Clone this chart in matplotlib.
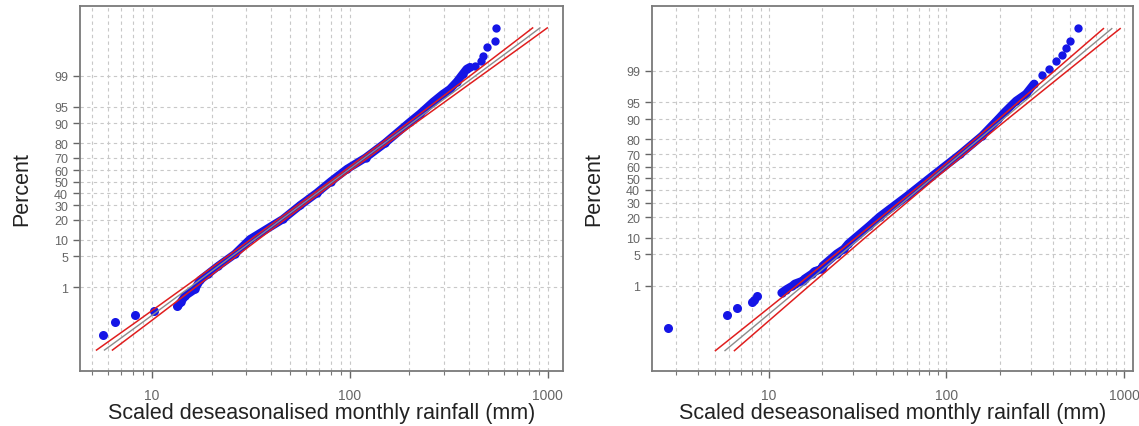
import matplotlib.pyplot as plt
import numpy as np
from statistics import NormalDist

plt.rcParams['font.family'] = ['Liberation Sans', 'DejaVu Sans']

# ---- left panel: data (x in mm, y in percent) ----
left_tail_x = [5.66, 6.5, 8.2, 10.3, 13.4]
left_tail_pct = [0.036, 0.10, 0.164, 0.22, 0.30]
left_band_x = [13.6, 14.0, 14.7, 16.5, 17.5, 19.2, 21.5, 26.2, 31.3, 45.9, 56.0, 68.0,
               80.0, 96.6, 120.0, 150.0, 201.0, 226.0, 263.0, 295.0, 320.0, 347.0,
               372.0, 389.0, 404.0]
left_band_pct = [0.33, 0.40, 0.59, 0.89, 1.5, 2.1, 3.1, 5.5, 10.2, 20.4, 30.0, 40.0,
                 50.0, 60.8, 70.0, 80.0, 90.5, 93.2, 96.0, 97.3, 97.9, 98.6,
                 99.11, 99.34, 99.41]
left_top_x = [428.0, 459.0, 470.0, 492.0, 540.0, 545.0]
left_top_pct = [99.45, 99.60, 99.71, 99.85, 99.90, 99.963]

# fitted lognormal line and confidence bounds
left_fit_pct = [0.0104, 0.1, 1, 10, 50, 90, 99, 99.9, 99.964]
left_fit_mid = [5.76, 9.02, 15.56, 32.8, 81.8, 204.2, 430.5, 742.5, 912.0]
left_fit_lo = [5.25, 8.33, 14.60, 31.4, 79.2, 195.3, 404.1, 686.0, 837.5]
left_fit_hi = [6.32, 9.76, 16.58, 34.3, 84.6, 213.4, 458.6, 803.5, 993.0]

# ---- right panel ----
right_tail_x = [2.71, 5.81, 6.6, 8.0, 8.25, 8.6]
right_tail_pct = [0.06, 0.16, 0.25, 0.36, 0.43, 0.55]
right_band_x = [11.8, 12.5, 13.6, 14.0, 15.5, 15.9, 17.5, 18.1, 19.9, 20.1, 24.1, 26.5,
                28.0, 36.9, 42.1, 60.0, 83.4, 120.0, 159.0, 196.0, 214.0, 247.0,
                281.0, 312.0]
right_band_pct = [0.66, 0.80, 1.0, 1.12, 1.32, 1.48, 1.93, 2.2, 2.5, 2.9, 5.1, 6.3,
                  7.8, 15.2, 20.3, 35.0, 52.0, 70.0, 82.1, 90.0, 92.5, 95.3,
                  96.6, 97.96]
right_top_x = [346.0, 379.0, 415.0, 448.0, 472.0, 498.0, 552.0]
right_top_pct = [98.75, 99.11, 99.45, 99.62, 99.76, 99.85, 99.944]

right_fit_pct = [0.0096, 0.1, 1, 10, 50, 90, 99, 99.9, 99.94]
right_fit_mid = [5.67, 8.98, 15.56, 33.0, 83.0, 208.7, 442.5, 766.6, 854.0]
right_fit_lo = [5.01, 8.09, 14.32, 31.1, 79.5, 196.9, 407.1, 691.0, 766.3]
right_fit_hi = [6.41, 9.97, 16.91, 35.0, 86.7, 221.2, 481.0, 850.5, 951.7]

pct_ticks = [1, 5, 10, 20, 30, 40, 50, 60, 70, 80, 90, 95, 99]

nd = NormalDist()


def prob_fwd(p):
    p = np.clip(np.asarray(p, dtype=float) / 100.0, 1e-12, 1 - 1e-12)
    return np.array([nd.inv_cdf(v) for v in p.ravel()]).reshape(p.shape)


def prob_inv(z):
    z = np.asarray(z, dtype=float)
    return np.array([nd.cdf(v) for v in z.ravel()]).reshape(z.shape) * 100.0


def prob_panel(ax, tx, tp, bx, bp, ux, up, fp, fm, flo, fhi, xlim, ylim):
    ax.set_xscale('log')
    ax.set_yscale('function', functions=(prob_fwd, prob_inv))

    ax.plot(bx, bp, '-', color='#1515e6', lw=6, solid_capstyle='round', zorder=3)
    ax.plot(bx + ux, bp + up, 'o', color='#1515e6', ms=6, mew=0, zorder=3)
    ax.plot(tx, tp, 'o', color='#1515e6', ms=6.5, mew=0, zorder=3)

    ax.plot(fm, fp, color='#8c8c8c', lw=1.0, zorder=4)
    ax.plot(flo, fp, color='#e01e1e', lw=1.1, zorder=4)
    ax.plot(fhi, fp, color='#e01e1e', lw=1.1, zorder=4)

    ax.set_xlim(*xlim)
    ax.set_ylim(*ylim)
    ax.set_yticks(pct_ticks)
    ax.set_yticklabels([str(t) for t in pct_ticks])
    ax.yaxis.set_minor_locator(plt.NullLocator())
    ax.set_xticks([10, 100, 1000])
    ax.set_xticklabels(['10', '100', '1000'])

    ax.grid(which='both', axis='x', color='#c8c8c8', ls=(0, (3, 3)), lw=0.8)
    ax.grid(which='major', axis='y', color='#c8c8c8', ls=(0, (3, 3)), lw=0.8)
    ax.set_axisbelow(True)
    for s in ax.spines.values():
        s.set_color('#7a7a7a')
        s.set_linewidth(1.3)
    ax.tick_params(which='major', colors='#666666', labelsize=9, length=5, width=1)
    ax.tick_params(axis='x', labelsize=10)
    ax.tick_params(which='minor', colors='#777777', length=3, width=0.8)
    ax.tick_params(axis='x', pad=7)
    ax.set_xlabel('Scaled deseasonalised monthly rainfall (mm)', fontsize=15.5,
                  color='#222222', labelpad=0)
    ax.set_ylabel('Percent', fontsize=15.5, color='#222222', labelpad=16)


fig = plt.figure(figsize=(11.39, 4.27), dpi=100)
ax1 = fig.add_axes([0.0702, 0.1288, 0.424, 0.855])
ax2 = fig.add_axes([0.5724, 0.1288, 0.4223, 0.855])

prob_panel(ax1, left_tail_x, left_tail_pct, left_band_x, left_band_pct,
           left_top_x, left_top_pct, left_fit_pct, left_fit_mid, left_fit_lo,
           left_fit_hi, (4.33, 1191), (0.00152, 99.99447))
prob_panel(ax2, right_tail_x, right_tail_pct, right_band_x, right_band_pct,
           right_top_x, right_top_pct, right_fit_pct, right_fit_mid, right_fit_lo,
           right_fit_hi, (2.2, 1124), (0.00152, 99.99043))

fig.savefig('out.png', dpi=100)
